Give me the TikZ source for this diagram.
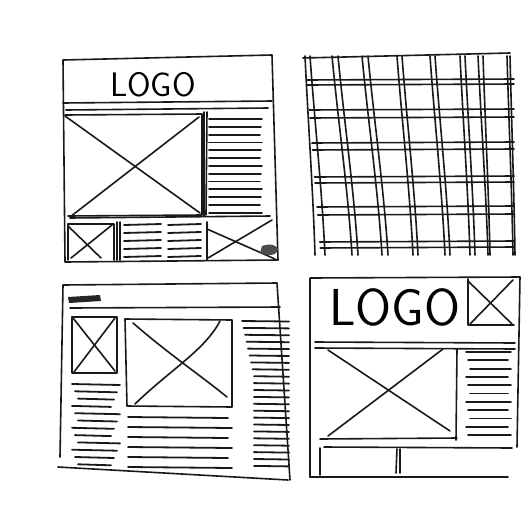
\documentclass[tikz,border=0pt]{standalone}
\begin{document}
\begin{tikzpicture}[x=1pt,y=-1pt,
  ink/.style={line width=1.6pt,line cap=round,line join=round,black!90},
  txt/.style={line width=1.8pt,line cap=round,black!90}]
\fill[white] (0,0) rectangle (522,512);
\useasboundingbox (0,0) rectangle (522,512);
% ---------- top-left wireframe ----------
\draw[ink] (63,60) -- (272,55) -- (278,260) -- (65,262) -- cycle;
\node[inner sep=0] (logo1) at (153,85) {\sffamily\fontsize{34}{34}\selectfont LOGO};
\draw[ink] (63,103) -- (272,101);
\draw[ink] (66,110) -- (268,108);
\draw[ink] (65,115) -- (202,114) -- (202,215) -- (68,216);
\draw[ink] (65,116) -- (200,213);
\draw[ink] (70,217) -- (199,117);
\draw[ink] (204,112) -- (204,216);
\draw[ink] (207,112) -- (206,215);
\foreach \i in {0,...,12}{\draw[txt] (209,{119+\i*7.8}) -- ({262-mod(\i,3)},{119+\i*7.8});}
\draw[ink] (70,218) -- (270,216);
\draw[ink] (68,224) -- (114,224) -- (114,260);
\draw[ink] (68,224) -- (68,260);
\draw[ink] (68,226) -- (101,258);
\draw[ink] (71,258) -- (112,225);
\draw[ink] (117,222) -- (117,260);
\draw[ink] (120,222) -- (120,260);
\foreach \i in {0,...,4}{\draw[txt] (124,{225+\i*8}) -- (161,{224+\i*8});
  \draw[txt] (168,{225+\i*8}) -- (201,{224+\i*8});}
\draw[ink] (207,222) -- (207,260);
\draw[ink] (207,229) -- (275,259);
\draw[ink] (208,258) -- (272,220);
\fill[black!70] (262,246) .. controls (270,243) and (278,245) .. (278,250) .. controls (277,256) and (266,256) .. (260,253) -- cycle;
% ---------- top-right grid ----------
\draw[ink] (303,58) -- (510,53);
\foreach \y in {80,85,110,118,143,150,177,183,207,215,242,248}{
  \draw[ink] ({305+(\y-58)*0.08},\y) -- (514,{\y-1});}
\foreach \a/\b in {305/315,310/325,332/352,338/358,362/382,368/388,397/413,402/418,430/445,435/450,460/470,465/475,478/488,483/490,507/513,510/515}{
  \draw[ink] (\a,56) .. controls ({\a+0.3*(\b-\a)},120) and ({\a+0.8*(\b-\a)},190) .. (\b,255);}
% ---------- bottom-left wireframe ----------
\draw[ink] (60,457) -- (63,285) -- (277,283) -- (290,480);
\draw[ink] (58,467) -- (288,480);
\draw[ink] (70,308) -- (280,307);
\fill[black!85] (68,297) -- (100,295) -- (101,301) -- (69,303) -- cycle;
\draw[ink] (72,317) rectangle (117,373);
\draw[ink] (73,318) -- (115,371);
\draw[ink] (74,372) -- (115,318);
\draw[ink] (125,319) -- (232,320) -- (232,407) -- (127,406) -- cycle;
\draw[ink] (133,323) .. controls (170,355) and (200,375) .. (227,397);
\draw[ink] (135,404) .. controls (170,370) and (205,350) .. (220,321);
\foreach \i in {0,...,11}{\draw[txt] ({72+mod(\i,3)*3},{384+\i*7.3}) -- ({120-mod(\i,4)*3},{385+\i*7.3});}
\foreach \i in {0,...,5}{\draw[txt] (128,{417+\i*10}) -- ({228+mod(\i,2)*4},{418+\i*10});}
\foreach \i in {0,...,21}{\draw[txt] ({242+min(\i,8)*1.5},{321+\i*6.9}) -- (289,{321.5+\i*6.9});}
% ---------- bottom-right wireframe ----------
\draw[ink] (310,477) -- (310,278) -- (520,277) -- (517,447);
\draw[ink] (310,477) -- (508,477);
\node[inner sep=0] (logo2) at (395,307) {\sffamily\fontsize{52}{52}\selectfont LOGO};
\draw[ink] (468,279) -- (468,325) -- (514,325);
\draw[ink] (468,281) -- (512,324);
\draw[ink] (470,324) -- (513,280);
\draw[ink] (315,342) -- (515,343);
\draw[ink] (315,348) -- (515,349);
\draw[ink] (328,350) -- (450,431);
\draw[ink] (328,436) -- (443,349);
\draw[ink] (457,349) -- (456,440);
\draw[ink] (320,439) -- (457,438);
\foreach \i in {0,...,10}{\draw[txt] ({466+mod(\i,3)*2},{352+\i*8.3}) -- ({511-mod(\i,2)*3},{352+\i*8.3});}
\draw[ink] (324,447) -- (512,448);
\draw[ink] (320,448) -- (320,475);
\draw[ink] (397,449) -- (396,473);
\draw[ink] (400,449) -- (400,473);
\end{tikzpicture}
\end{document}
